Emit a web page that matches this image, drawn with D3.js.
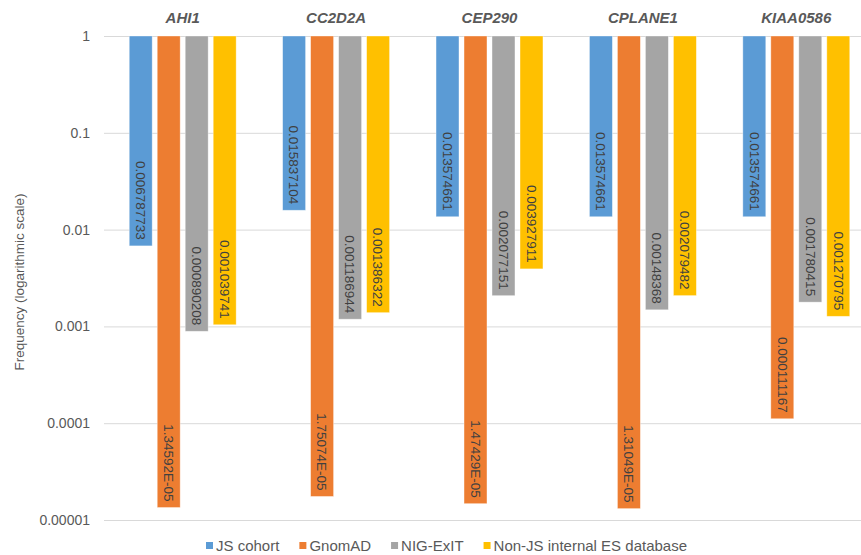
<!DOCTYPE html>
<html>
<head>
<meta charset="utf-8">
<script src="https://cdn.jsdelivr.net/npm/d3@7"></script>
<style>
  body { margin: 0; background: #fff; }
  text { font-family: "Liberation Sans", Arial, sans-serif; }
</style>
</head>
<body>
<div id="chart"></div>
<script>
// data
const categories = ["AHI1", "CC2D2A", "CEP290", "CPLANE1", "KIAA0586"];
const seriesNames = ["JS cohort", "GnomAD", "NIG-ExIT", "Non-JS internal ES database"];
const jsCohort = [0.006787733, 0.015837104, 0.013574661, 0.013574661, 0.013574661];
const gnomAD = [1.34592e-5, 1.75074e-5, 1.47429e-5, 1.31049e-5, 0.000111167];
const nigExit = [0.000890208, 0.001186944, 0.002077151, 0.00148368, 0.001780415];
const nonJS = [0.001039741, 0.001386322, 0.003927911, 0.002079482, 0.001270795];
const yTicks = [1, 0.1, 0.01, 0.001, 0.0001, 0.00001];
const yTickLabels = ["1", "0.1", "0.01", "0.001", "0.0001", "0.00001"];

const colors = ["#5B9BD5", "#ED7D31", "#A5A5A5", "#FFC000"];
const allSeries = [jsCohort, gnomAD, nigExit, nonJS];

const width = 861, height = 555;
const margin = {top: 36, right: -12, bottom: 35, left: 106};
const innerW = width - margin.left - margin.right;
const innerH = height - margin.top - margin.bottom;

const svg = d3.select("#chart").append("svg")
    .attr("width", width)
    .attr("height", height);

const g = svg.append("g")
    .attr("transform", `translate(${margin.left},${margin.top})`);

// scales
const x0 = d3.scaleBand().domain(categories).range([0, innerW]).padding(0);
const x1 = d3.scaleBand().domain(d3.range(seriesNames.length))
    .range([0, x0.bandwidth()])
    .paddingInner(0.18)
    .paddingOuter(0.83);
const y = d3.scaleLog().domain([1e-5, 1]).range([innerH, 0]);

// gridlines + tick labels
const yAxis = g.append("g")
    .call(d3.axisLeft(y)
        .tickValues(yTicks)
        .tickSize(-innerW - 10)
        .tickPadding(16)
        .tickFormat((d, i) => yTickLabels[i]));
yAxis.select(".domain").remove();
yAxis.selectAll(".tick line").attr("stroke", "#d9d9d9").attr("x1", -2);
yAxis.selectAll(".tick text")
    .attr("fill", "#595959")
    .style("font-size", "14px");

// y axis title
svg.append("text")
    .attr("transform", `translate(24,282) rotate(-90)`)
    .attr("text-anchor", "middle")
    .attr("fill", "#595959")
    .style("font-size", "13.5px")
    .text("Frequency (logarithmic scale)");

// category labels on top
g.selectAll(".cat")
    .data(categories)
    .join("text")
    .attr("class", "cat")
    .attr("x", d => x0(d) + x0.bandwidth() / 2)
    .attr("y", -13)
    .attr("text-anchor", "middle")
    .attr("fill", "#595959")
    .style("font-size", "15px")
    .style("font-weight", "bold")
    .style("font-style", "italic")
    .text(d => d);

function fmt(v) {
    if (v < 1e-4) {
        const [m, e] = v.toExponential(5).split("e");
        const ev = Math.abs(+e);
        return m + "E" + (+e < 0 ? "-" : "+") + (ev < 10 ? "0" + ev : ev);
    }
    return String(v);
}

// bars
const groups = g.selectAll(".grp")
    .data(categories)
    .join("g")
    .attr("class", "grp")
    .attr("transform", d => `translate(${x0(d)},0)`);

const cells = groups.selectAll(".cell")
    .data((d, ci) => allSeries.map((s, si) => ({si: si, v: s[ci]})))
    .join("g")
    .attr("class", "cell");

cells.append("rect")
    .attr("x", d => x1(d.si))
    .attr("y", y(1))
    .attr("width", x1.bandwidth())
    .attr("height", d => y(d.v) - y(1))
    .attr("fill", d => colors[d.si])
    .attr("stroke", "#fff")
    .attr("stroke-opacity", 0.5)
    .attr("stroke-width", 0.75);

cells.append("text")
    .attr("transform", d => `translate(${x1(d.si) + x1.bandwidth() / 2},${y(d.v) - 6}) rotate(90)`)
    .attr("text-anchor", "end")
    .attr("dy", "0.35em")
    .attr("fill", "#404040")
    .style("font-size", "13.5px")
    .text(d => fmt(d.v));

// legend
const legend = svg.append("g");
const items = legend.selectAll(".li")
    .data(seriesNames)
    .join("g")
    .attr("class", "li");
items.append("rect")
    .attr("width", 7).attr("height", 7)
    .attr("y", -9)
    .attr("fill", (d, i) => colors[i]);
items.append("text")
    .attr("x", 10)
    .attr("fill", "#595959")
    .style("font-size", "15px")
    .text(d => d);

let xPos = 0;
items.each(function () {
    const w = d3.select(this).select("text").node().getComputedTextLength();
    d3.select(this).attr("transform", `translate(${xPos},0)`);
    xPos += 10 + w + 20;
});
legend.attr("transform", `translate(206,551)`);
</script>
</body>
</html>
